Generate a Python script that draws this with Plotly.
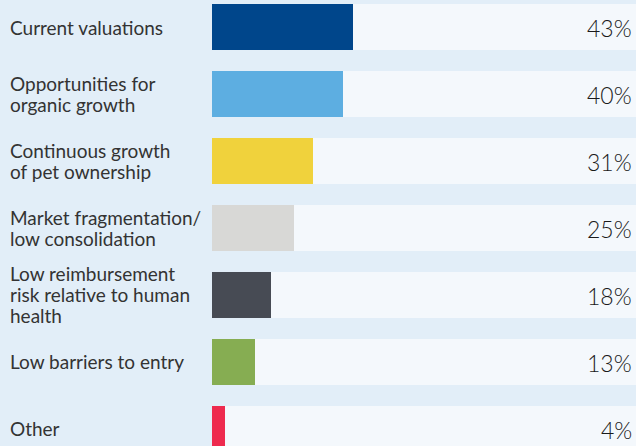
import plotly.graph_objects as go

categories = [
    "Current valuations",
    "Opportunities for<br>organic growth",
    "Continuous growth<br>of pet ownership",
    "Market fragmentation/<br>low consolidation",
    "Low reimbursement<br>risk relative to human<br>health",
    "Low barriers to entry",
    "Other",
]
values = [43, 40, 31, 25, 18, 13, 4]
colors = ["#00468b", "#5daee1", "#f0d23c", "#d8d8d6", "#474b54", "#86ad52", "#ee2a4e"]

BG = "#e2eef8"
TRACK = "#f4f8fc"
X_MAX = 129.7
LINE_H = 21  # px between label lines

rows = list(range(len(categories)))

fig = go.Figure()

# background track for each row
fig.add_trace(go.Bar(
    x=[X_MAX] * len(rows), y=rows, orientation="h",
    marker=dict(color=TRACK, line=dict(width=0)),
    width=0.7, hoverinfo="skip", showlegend=False,
))

fig.add_trace(go.Bar(
    x=values, y=rows, orientation="h",
    marker=dict(color=colors, line=dict(width=0)),
    width=0.7, showlegend=False,
))

for i, (cat, v) in enumerate(zip(categories, values)):
    # one annotation per line so the line spacing can be kept tight
    lines = cat.split("<br>")
    n = len(lines)
    for k, line in enumerate(lines):
        fig.add_annotation(
            x=-204 / 424, y=i, xref="paper", yref="y",
            yshift=-(k - (n - 1) / 2) * LINE_H,
            text=line, showarrow=False, xanchor="left", yanchor="middle", align="left",
            font=dict(family="Lato", size=19, color="#333333"),
        )
    fig.add_annotation(
        x=1, y=i, xref="paper", yref="y", xshift=-2, yshift=-1,
        text=f"{v}%", showarrow=False, xanchor="right", yanchor="middle",
        font=dict(family="Lato", size=23, color="#1a1a1a", weight=300),
    )

fig.update_layout(
    width=636, height=446,
    margin=dict(l=212, r=0, t=0, b=0),
    paper_bgcolor=BG, plot_bgcolor=BG,
    barmode="overlay", bargap=0,
    xaxis=dict(range=[0, X_MAX], visible=False, fixedrange=True),
    yaxis=dict(range=[6.254, -0.403], visible=False, fixedrange=True),
)

fig.write_html("out.html", config={"displayModeBar": False},
               post_script="document.body.style.margin='0';")
